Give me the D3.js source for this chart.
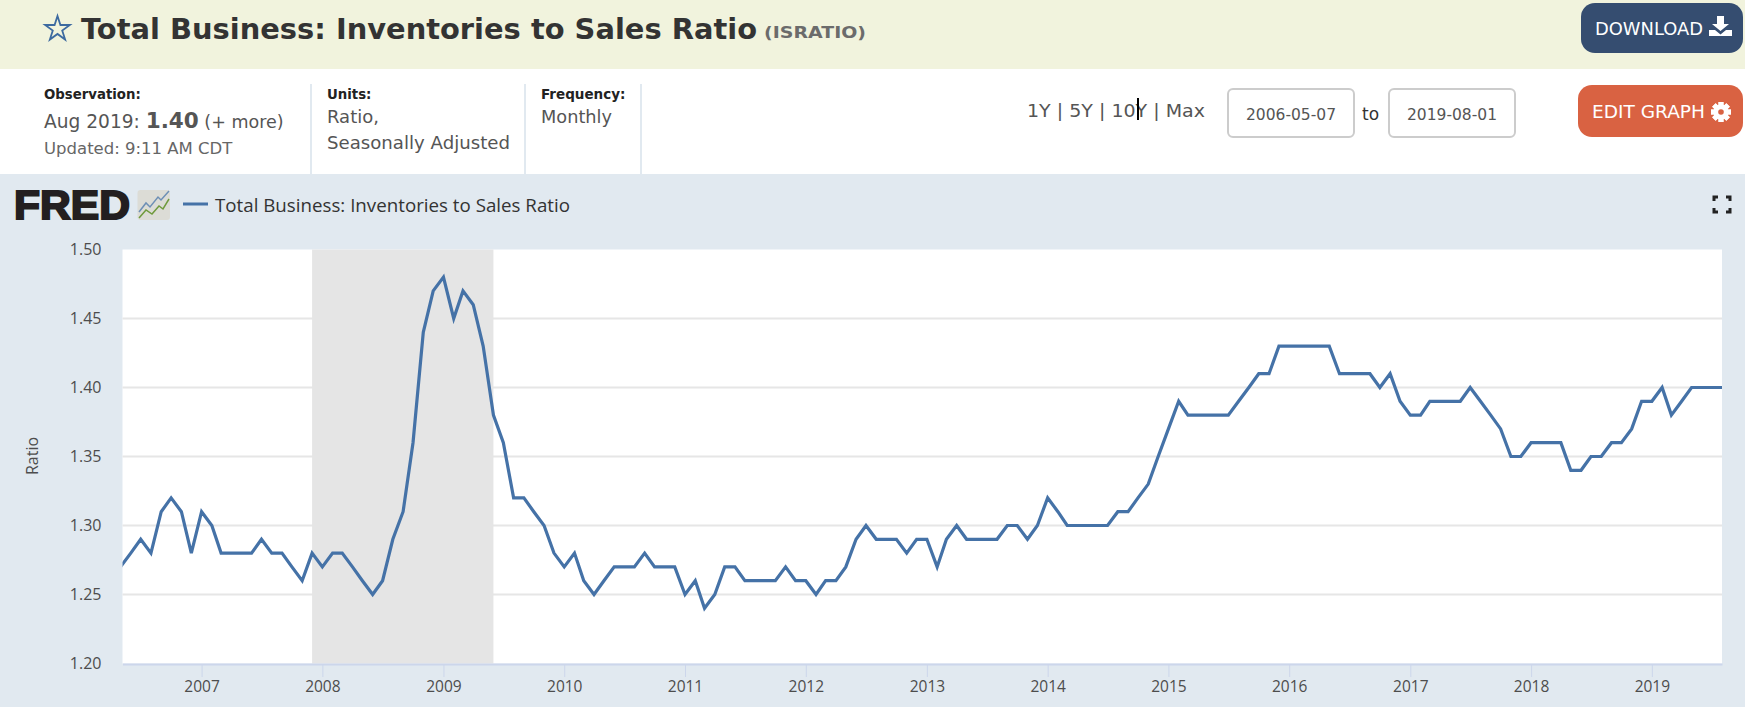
<!DOCTYPE html>
<html><head><meta charset="utf-8">
<script src="https://cdn.jsdelivr.net/npm/d3@7"></script>
<style>
html,body{margin:0;padding:0;background:#fff;overflow:hidden}
svg{display:block}
text{font-family:"DejaVu Sans",sans-serif}
.os{font-family:"Open Sans",sans-serif}
.axis text{font-family:"Open Sans",sans-serif;font-size:15.5px;fill:#4d4d4d}
</style></head><body><svg id="c" width="1745" height="707"></svg>
<script>
const seriesName="Total Business: Inventories to Sales Ratio";
const seriesStart="2006-05-01";
const ratio=[
1.27,1.28,1.29,1.28,1.31,1.32,1.31,1.28,
1.31,1.30,1.28,1.28,1.28,1.28,1.29,1.28,1.28,1.27,1.26,1.28,
1.27,1.28,1.28,1.27,1.26,1.25,1.26,1.29,1.31,1.36,1.44,1.47,
1.48,1.45,1.47,1.46,1.43,1.38,1.36,1.32,1.32,1.31,1.30,1.28,
1.27,1.28,1.26,1.25,1.26,1.27,1.27,1.27,1.28,1.27,1.27,1.27,
1.25,1.26,1.24,1.25,1.27,1.27,1.26,1.26,1.26,1.26,1.27,1.26,
1.26,1.25,1.26,1.26,1.27,1.29,1.30,1.29,1.29,1.29,1.28,1.29,
1.29,1.27,1.29,1.30,1.29,1.29,1.29,1.29,1.30,1.30,1.29,1.30,
1.32,1.31,1.30,1.30,1.30,1.30,1.30,1.31,1.31,1.32,1.33,1.35,
1.37,1.39,1.38,1.38,1.38,1.38,1.38,1.39,1.40,1.41,1.41,1.43,
1.43,1.43,1.43,1.43,1.43,1.41,1.41,1.41,1.41,1.40,1.41,1.39,
1.38,1.38,1.39,1.39,1.39,1.39,1.40,1.39,1.38,1.37,1.35,1.35,
1.36,1.36,1.36,1.36,1.34,1.34,1.35,1.35,1.36,1.36,1.37,1.39,
1.39,1.40,1.38,1.39,1.40,1.40,1.40,1.40];
const yTicks=[1.20,1.25,1.30,1.35,1.40,1.45,1.50];
const xTickYears=[2007,2008,2009,2010,2011,2012,2013,2014,2015,2016,2017,2018,2019];
const recession=["2007-12-01","2009-06-01"];
const domainDates=["2006-05-07","2019-08-01"];
const rangeLinks="1Y | 5Y | 10Y | Max";

const P=d3.utcParse("%Y-%m-%d");
const dates=d3.utcMonth.range(P(seriesStart),d3.utcMonth.offset(P(seriesStart),ratio.length));
const x=d3.scaleUtc().domain(domainDates.map(P)).range([122.5,1722]);
const y=d3.scaleLinear().domain([1.2,1.5]).range([663.5,249.5]);
const svg=d3.select("#c");
const T=(s,px,py,size,fill,weight,cls,anchor)=>svg.append("text").attr("x",px).attr("y",py)
  .attr("font-size",size).attr("fill",fill).attr("font-weight",weight||400).attr("class",cls||null)
  .attr("text-anchor",anchor||"start").text(s);
const fit=(t,w)=>t.attr("textLength",w).attr("lengthAdjust","spacingAndGlyphs");
const R=(a,b,w,h,fill,rx)=>svg.append("rect").attr("x",a).attr("y",b).attr("width",w).attr("height",h).attr("fill",fill).attr("rx",rx||0);

// page bands
R(0,0,1745,69,"#f1f3dd");
R(0,69,1745,105,"#ffffff");
R(0,174,1745,533,"#e1e9f0");

// title
svg.append("path").attr("d",d3.symbol(d3.symbolStar,190)()).attr("transform","translate(57.5,29)")
  .attr("fill","none").attr("stroke","#3d6aa0").attr("stroke-width",1.8);
fit(T(seriesName,81,39,28.5,"#333333",700),676);
fit(T("(ISRATIO)",764,38,15.5,"#6b6b6b",700),102);

// download button
R(1581,3,162,50,"#354d70",14);
fit(T("DOWNLOAD",1595,35,17,"#ffffff"),108);
svg.append("path").attr("fill","#fff")
 .attr("d","M1717 16h7v8h5l-8.500 7-8.500-7h5zM1709 30l6 0 5.500 4.500 5.500-4.500 6 0v6h-23z");

// meta columns
[311,525,641].forEach(a=>R(a-1,84,2,90,"#e1e9f0"));
T("Observation:",44,99,13.3,"#222222",700);
const obs=T("",44,128,18.6,"#555555");
obs.append("tspan").text("Aug 2019: ");
obs.append("tspan").attr("font-weight",700).attr("font-size",21.500).text("1.40");
obs.append("tspan").attr("font-size",17.500).text(" (+ more)");
T("Updated: 9:11 AM CDT",44,154,16.500,"#666666");
T("Units:",327,99,13.3,"#222222",700);
T("Ratio,",327,123,18,"#555555");
fit(T("Seasonally Adjusted",327,149,18,"#555555"),183);
T("Frequency:",541,99,13.5,"#222222",700);
fit(T("Monthly",541,123,17.500,"#555555"),71);

// range controls
fit(T(rangeLinks,1027,117,17.500,"#555555"),178);
R(1137,98,2,22,"#000000");
[[1227,"2006-05-07"],[1388,"2019-08-01"]].forEach(([a,s])=>{
  svg.append("rect").attr("x",a+1).attr("y",89).attr("width",126).attr("height",48).attr("rx",5)
   .attr("fill","#fff").attr("stroke","#cccccc").attr("stroke-width",2);
  T(s,a+64,119.5,15.5,"#555555",400,null,"middle");
});
T("to",1362,120,17,"#333333");

// edit button
R(1578,85,165,52,"#d96242",14);
fit(T("EDIT GRAPH",1592,118,18,"#ffffff"),113);
const gear=svg.append("g").attr("transform","translate(1721,112)");
d3.range(8).forEach(i=>gear.append("rect").attr("x",-2.500).attr("y",-10).attr("width",5).attr("height",20)
  .attr("fill","#fff").attr("transform",`rotate(${i*45})`));
gear.append("circle").attr("r",7.500).attr("fill","#fff");
gear.append("circle").attr("r",2.800).attr("fill","#d96242");

// FRED logo
svg.append("text").attr("x",14).attr("y",219).attr("font-size",41).attr("font-weight",700)
  .attr("textLength",116).attr("lengthAdjust","spacingAndGlyphs")
  .style("font-family","'Liberation Sans',sans-serif").attr("fill","#231f20")
  .attr("stroke","#231f20").attr("stroke-width",2).text("FRED");
R(137.500,190,32.500,30,"#dcdcd6",3);
const lg=d3.line();
svg.append("path").attr("d",lg([[139,212],[146,203],[150,207],[158,197],[161,200],[169,191]])).attr("fill","none").attr("stroke","#6d8fb5").attr("stroke-width",1.5);
svg.append("path").attr("d",lg([[139,218],[146,210],[152,214],[159,206],[163,209],[169,199]])).attr("fill","none").attr("stroke","#6f9a3c").attr("stroke-width",1.5);

// legend
R(183,202.500,25,3,"#4572a7");
fit(T(seriesName,215,212,18,"#333333",400,"os"),355);

// fullscreen icon
const fs=[[1714,197,1,1],[1730,197,-1,1],[1714,212,1,-1],[1730,212,-1,-1]];
fs.forEach(([a,b,dx,dy])=>svg.append("path")
  .attr("d",`M${a+4*dx} ${b}H${a}V${b+4*dy}`).attr("fill","none").attr("stroke","#222").attr("stroke-width",3));

// plot
R(122.500,249.500,1599.500,414,"#ffffff");
svg.append("g").selectAll("line").data(yTicks.slice(1,-1)).join("line")
  .attr("x1",122.500).attr("x2",1722).attr("y1",d=>y(d)).attr("y2",d=>y(d))
  .attr("stroke","#e6e6e6").attr("stroke-width",2);
svg.append("rect").attr("x",x(P(recession[0]))).attr("y",249.500)
  .attr("width",x(P(recession[1]))-x(P(recession[0]))).attr("height",414).attr("fill","#e5e5e5");

const xAxis=d3.axisBottom(x).tickValues(xTickYears.map(v=>new Date(Date.UTC(v,0,1))))
  .tickFormat(d3.utcFormat("%Y")).tickSizeInner(13).tickSizeOuter(0).tickPadding(4);
const gx=svg.append("g").attr("class","axis").attr("transform","translate(0,664)").call(xAxis);
gx.select(".domain").attr("stroke","#ccd6eb").attr("stroke-width",2);
gx.selectAll(".tick line").attr("stroke","#ccd6eb");

const yAxis=d3.axisLeft(y).tickValues(yTicks).tickFormat(d3.format(".2f")).tickSize(0).tickPadding(21);
const gy=svg.append("g").attr("class","axis").attr("transform","translate(122.500,0)").call(yAxis);
gy.select(".domain").remove();
gy.selectAll("text").style("font-size","16px");

svg.append("text").attr("class","os").attr("transform","translate(38,456) rotate(-90)")
  .attr("text-anchor","middle").attr("font-size",16).attr("fill","#4d4d4d").text("Ratio");

svg.append("clipPath").attr("id","pc").append("rect").attr("x",122.500).attr("y",249.500).attr("width",1599.500).attr("height",414);
svg.append("path").attr("clip-path","url(#pc)")
  .attr("d",d3.line().x((d,i)=>x(dates[i])).y(d=>y(d))(ratio))
  .attr("fill","none").attr("stroke","#4572a7").attr("stroke-width",3.2).attr("stroke-linejoin","miter");
</script></body></html>
